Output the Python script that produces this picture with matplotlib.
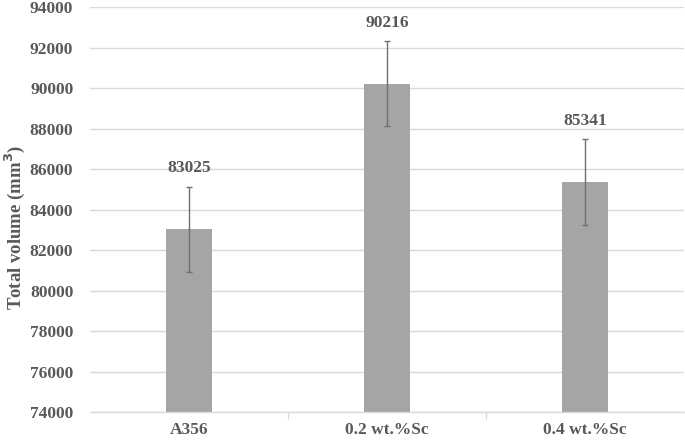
import matplotlib
matplotlib.use("Agg")
import matplotlib.pyplot as plt
import numpy as np

categories = ["A356", "0.2 wt.%Sc", "0.4 wt.%Sc"]
values = [83025, 90216, 85341]
errors = [2110, 2110, 2120]
yticks = list(range(74000, 94001, 2000))

plt.rcParams['font.family'] = ['Liberation Serif', 'DejaVu Serif']
text_color = '#595959'
fs = 12.5

fig = plt.figure(figsize=(6.85, 4.4), dpi=100)
ax = fig.add_axes([90/685, 28/440, 594/685, 405/440])

x = np.arange(len(categories))
ax.bar(x, values, width=0.23, color='#a5a5a5', zorder=2)
ax.errorbar(x, values, yerr=errors, fmt='none', ecolor='#707070', elinewidth=1.0,
            capsize=2.5, capthick=1.0, zorder=3)
for xi, v, e in zip(x, values, errors):
    ax.text(xi, v + e + 500, str(v), ha='center', va='bottom', fontsize=fs,
            fontweight='bold', color=text_color)

ax.set_xlim(-0.5, len(categories) - 0.5)
ax.set_ylim(74000, 94000)
ax.set_yticks(yticks)
ax.set_yticklabels([str(t) for t in yticks], fontsize=fs, fontweight='bold', color=text_color)
ax.set_xticks(x)
ax.set_xticklabels(categories, fontsize=fs, fontweight='bold', color=text_color)
ax.set_xticks([0.5, 1.5], minor=True)
ax.tick_params(axis='x', which='major', length=0, pad=7)
ax.tick_params(axis='x', which='minor', length=5, color='#d9d9d9', width=1)
ax.tick_params(axis='y', length=0, pad=12)
ax.yaxis.grid(True, color='#d9d9d9', linewidth=1, zorder=0)
ax.set_axisbelow(True)
for s in ['top', 'right', 'left']:
    ax.spines[s].set_visible(False)
ax.spines['bottom'].set_color('#d9d9d9')
ax.spines['bottom'].set_linewidth(1)

ax.set_ylabel("Total volume (mm$^{\\mathbf{3}}$)", fontsize=13.5, fontweight='bold', color=text_color)
ax.yaxis.set_label_coords(-0.106, 0.455)

fig.savefig("out.png", dpi=100)
